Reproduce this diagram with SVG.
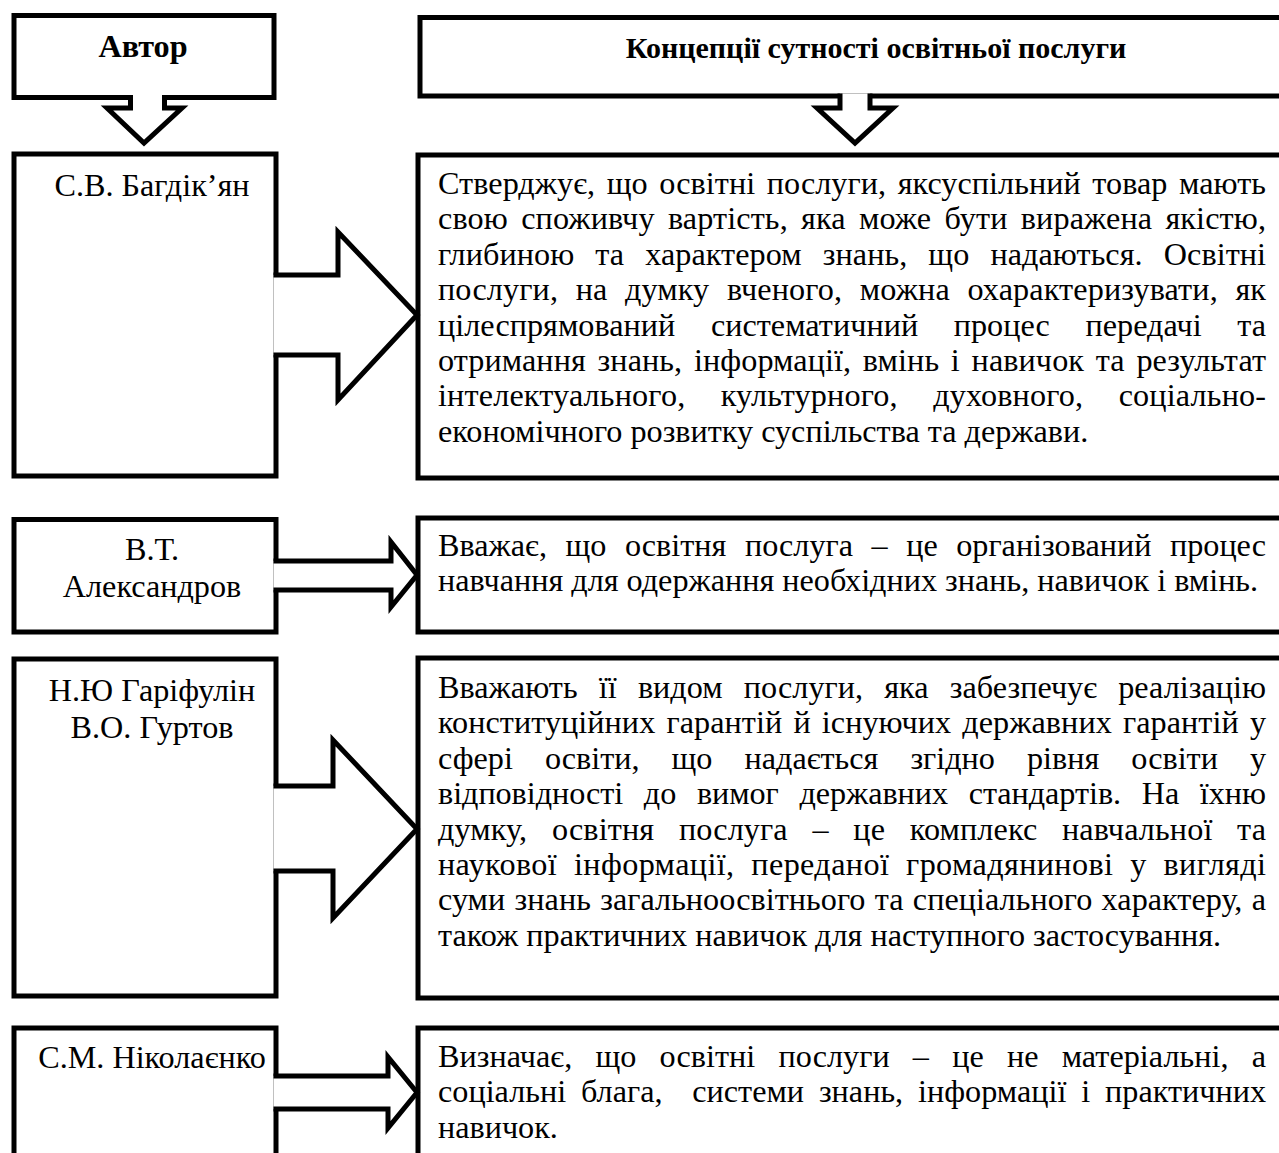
<svg xmlns="http://www.w3.org/2000/svg" width="1279" height="1153" viewBox="0 0 1279 1153">
<style>
.s{fill:#fff;stroke:#000;stroke-width:5;stroke-linejoin:miter;stroke-miterlimit:10}
.a{fill:#fff;stroke:#000;stroke-width:5;stroke-linejoin:miter;stroke-linecap:butt}
text{font-family:"Liberation Serif","Times New Roman",serif;font-size:32.2px;fill:#000}
.b{font-weight:bold}
.h{font-size:30px}
.m{text-anchor:middle}
</style>
<rect width="1279" height="1153" fill="#fff"/>
<g id="node-author">
<rect class="s" x="14" y="15.5" width="260" height="82"/>
<text class="b m" x="143" y="57">Автор</text>
</g>
<g id="node-header">
<rect class="s" x="420" y="17.5" width="900" height="78.5"/>
<text class="b m h" x="876" y="58">Концепції сутності освітньої послуги</text>
</g>
<g id="node-a1">
<rect class="s" x="14" y="154" width="262" height="322"/>
<text class="m" x="152" y="196">С.В. Багдік’ян</text>
</g>
<g id="node-c1">
<rect class="s" x="418" y="155" width="900" height="323"/>
<text x="438" y="194" textLength="828" lengthAdjust="spacing" style="word-spacing:3.4px">Стверджує, що освітні послуги, яксуспільний товар мають</text>
<text x="438" y="229.4" textLength="828" lengthAdjust="spacing" style="word-spacing:5.1px">свою споживчу вартість, яка може бути виражена якістю,</text>
<text x="438" y="264.8" textLength="828" lengthAdjust="spacing" style="word-spacing:13px">глибиною та характером знань, що надаються. Освітні</text>
<text x="438" y="300.2" textLength="828" lengthAdjust="spacing" style="word-spacing:9.4px">послуги, на думку вченого, можна охарактеризувати, як</text>
<text x="438" y="335.6" textLength="828" lengthAdjust="spacing" style="word-spacing:27.5px">цілеспрямований систематичний процес передачі та</text>
<text x="438" y="371" textLength="828" lengthAdjust="spacing" style="word-spacing:3.6px">отримання знань, інформації, вмінь і навичок та результат</text>
<text x="438" y="406.4" textLength="828" lengthAdjust="spacing" style="word-spacing:27.2px">інтелектуального, культурного, духовного, соціально-</text>
<text x="438" y="441.8">економічного розвитку суспільства та держави.</text>
</g>
<g id="node-a2">
<rect class="s" x="14" y="519.5" width="262" height="112.5"/>
<text class="m" x="152" y="560">В.Т.</text>
<text class="m" x="152" y="597">Александров</text>
</g>
<g id="node-c2">
<rect class="s" x="418" y="518" width="900" height="114"/>
<text x="438" y="556" textLength="828" lengthAdjust="spacing" style="word-spacing:10.5px">Вважає, що освітня послуга – це організований процес</text>
<text x="438" y="591.4">навчання для одержання необхідних знань, навичок і вмінь.</text>
</g>
<g id="node-a3">
<rect class="s" x="14" y="659" width="262" height="337"/>
<text class="m" x="152" y="701">Н.Ю Гаріфулін</text>
<text class="m" x="152" y="738">В.О. Гуртов</text>
</g>
<g id="node-c3">
<rect class="s" x="418" y="658" width="900" height="340"/>
<text x="438" y="698" textLength="828" lengthAdjust="spacing" style="word-spacing:13.1px">Вважають її видом послуги, яка забезпечує реалізацію</text>
<text x="438" y="733.4" textLength="828" lengthAdjust="spacing" style="word-spacing:3.1px">конституційних гарантій й існуючих державних гарантій у</text>
<text x="438" y="768.8" textLength="828" lengthAdjust="spacing" style="word-spacing:24px">сфері освіти, що надається згідно рівня освіти у</text>
<text x="438" y="804.2" textLength="828" lengthAdjust="spacing" style="word-spacing:12.7px">відповідності до вимог державних стандартів. На їхню</text>
<text x="438" y="839.6" textLength="828" lengthAdjust="spacing" style="word-spacing:16.5px">думку, освітня послуга – це комплекс навчальної та</text>
<text x="438" y="875" textLength="828" lengthAdjust="spacing" style="word-spacing:8.4px">наукової інформації, переданої громадянинові у вигляді</text>
<text x="438" y="910.4" textLength="828" lengthAdjust="spacing" style="word-spacing:1.2px">суми знань загальноосвітнього та спеціального характеру, а</text>
<text x="438" y="945.8">також практичних навичок для наступного застосування.</text>
</g>
<g id="node-a4">
<rect class="s" x="14" y="1028" width="262" height="160"/>
<text class="m" x="152" y="1068">С.М. Ніколаєнко</text>
</g>
<g id="node-c4">
<rect class="s" x="418" y="1028" width="900" height="160"/>
<text x="438" y="1067" textLength="828" lengthAdjust="spacing" style="word-spacing:15.1px">Визначає, що освітні послуги – це не матеріальні, а</text>
<text x="438" y="1102.4" textLength="828" lengthAdjust="spacing" xml:space="preserve" style="word-spacing:6.8px">соціальні блага,  системи знань, інформації і практичних</text>
<text x="438" y="1137.8">навичок.</text>
</g>
<g id="connectors">
<path class="a" d="M130.5,95 V108 H107 L144,143 L182,108 H164.5 V95"/>
<path class="a" d="M840,93.5 V108 H817 L855,143 L893,108 H870 V93.5"/>
<path class="a" d="M273.5,275 H338 V232 L417,315 L338,400 V355 H273.5"/>
<path class="a" d="M273.5,561 H391 V542 L417,575 L391,607 V590 H273.5"/>
<path class="a" d="M273.5,786 H333 V740 L417,829 L333,918 V871 H273.5"/>
<path class="a" d="M273.5,1076 H388 V1057 L417,1092.5 L388,1128 V1109 H273.5"/>
</g>
</svg>
